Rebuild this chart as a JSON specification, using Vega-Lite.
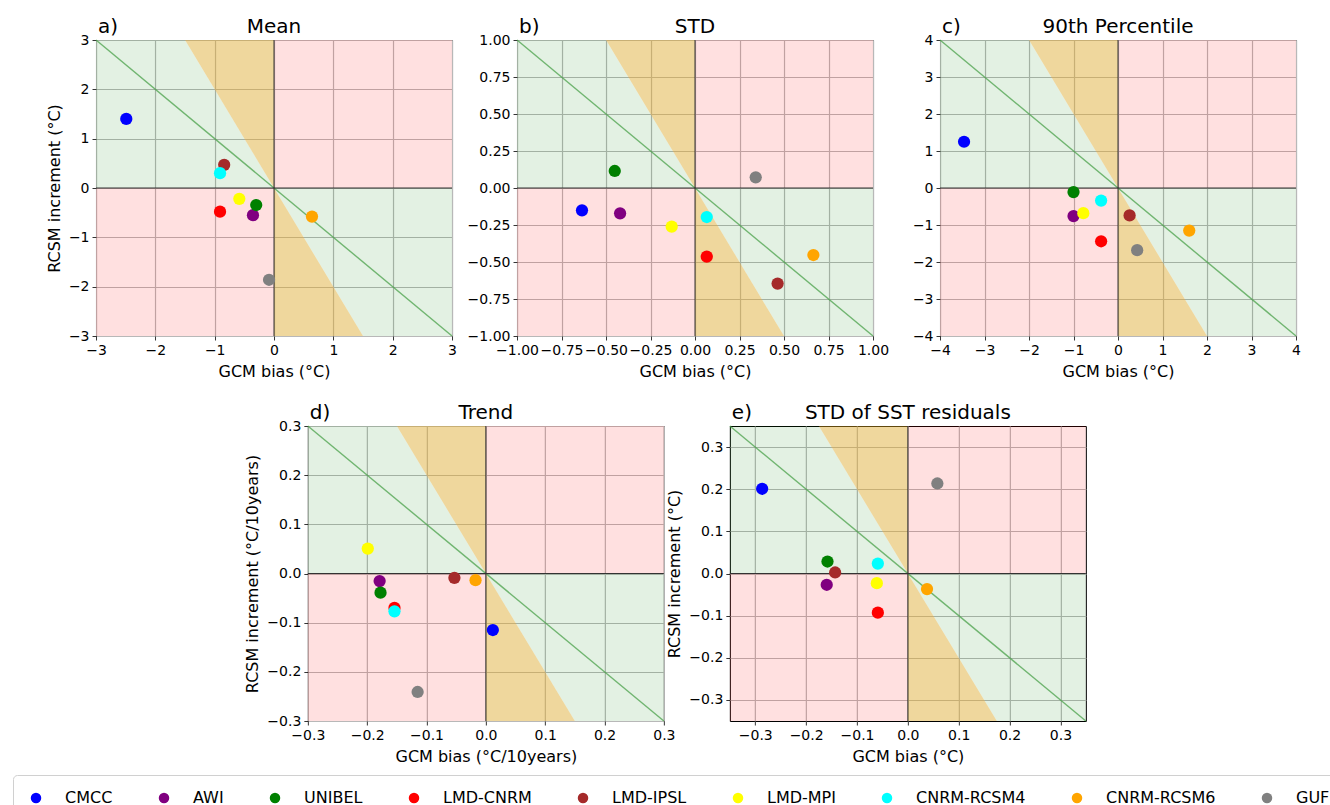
{
  "$schema": "https://vega.github.io/schema/vega-lite/v6.json",
  "padding": {"left": 12, "top": 16, "right": 0, "bottom": 0},
  "background": "white",
  "config": {
    "font": "DejaVu Sans",
    "view": {"stroke": "black", "strokeWidth": 1},
    "axis": {"labelFont": "DejaVu Sans", "labelFontSize": 14, "labelColor": "black", "titleFont": "DejaVu Sans", "titleFontSize": 16, "titleFontWeight": "normal", "titleColor": "black", "tickColor": "black", "tickSize": 4, "tickWidth": 0.8, "domain": false, "grid": true, "gridColor": "#b8b8b8", "gridWidth": 1.2, "labelFlush": false, "labelOverlap": false, "labelPadding": 3, "titlePadding": 6},
    "title": {"font": "DejaVu Sans", "fontSize": 20, "fontWeight": "normal", "color": "black", "offset": -20},
    "legend": {"labelFont": "DejaVu Sans"}
  },
  "datasets": {
    "bgA": [
      {"part": "ul", "zone": "better", "x": -3, "lo": 0, "hi": 3},
      {"part": "ul", "zone": "better", "x": -1.5, "lo": 0, "hi": 3},
      {"part": "ul", "zone": "better", "x": 0, "lo": 0, "hi": 0},
      {"part": "lr", "zone": "better", "x": 0, "lo": 0, "hi": 0},
      {"part": "lr", "zone": "better", "x": 1.5, "lo": -3, "hi": 0},
      {"part": "lr", "zone": "better", "x": 3, "lo": -3, "hi": 0},
      {"part": "oul", "zone": "over", "x": -1.5, "lo": 3, "hi": 3},
      {"part": "oul", "zone": "over", "x": 0, "lo": 0, "hi": 3},
      {"part": "olr", "zone": "over", "x": 0, "lo": -3, "hi": 0},
      {"part": "olr", "zone": "over", "x": 1.5, "lo": -3, "hi": -3},
      {"part": "wur", "zone": "worse", "x": 0, "lo": 0, "hi": 3},
      {"part": "wur", "zone": "worse", "x": 3, "lo": 0, "hi": 3},
      {"part": "wll", "zone": "worse", "x": -3, "lo": -3, "hi": 0},
      {"part": "wll", "zone": "worse", "x": 0, "lo": -3, "hi": 0}
    ],
    "bgB": [
      {"part": "ul", "zone": "better", "x": -1, "lo": 0, "hi": 1},
      {"part": "ul", "zone": "better", "x": -0.5, "lo": 0, "hi": 1},
      {"part": "ul", "zone": "better", "x": 0, "lo": 0, "hi": 0},
      {"part": "lr", "zone": "better", "x": 0, "lo": 0, "hi": 0},
      {"part": "lr", "zone": "better", "x": 0.5, "lo": -1, "hi": 0},
      {"part": "lr", "zone": "better", "x": 1, "lo": -1, "hi": 0},
      {"part": "oul", "zone": "over", "x": -0.5, "lo": 1, "hi": 1},
      {"part": "oul", "zone": "over", "x": 0, "lo": 0, "hi": 1},
      {"part": "olr", "zone": "over", "x": 0, "lo": -1, "hi": 0},
      {"part": "olr", "zone": "over", "x": 0.5, "lo": -1, "hi": -1},
      {"part": "wur", "zone": "worse", "x": 0, "lo": 0, "hi": 1},
      {"part": "wur", "zone": "worse", "x": 1, "lo": 0, "hi": 1},
      {"part": "wll", "zone": "worse", "x": -1, "lo": -1, "hi": 0},
      {"part": "wll", "zone": "worse", "x": 0, "lo": -1, "hi": 0}
    ],
    "bgC": [
      {"part": "ul", "zone": "better", "x": -4, "lo": 0, "hi": 4},
      {"part": "ul", "zone": "better", "x": -2, "lo": 0, "hi": 4},
      {"part": "ul", "zone": "better", "x": 0, "lo": 0, "hi": 0},
      {"part": "lr", "zone": "better", "x": 0, "lo": 0, "hi": 0},
      {"part": "lr", "zone": "better", "x": 2, "lo": -4, "hi": 0},
      {"part": "lr", "zone": "better", "x": 4, "lo": -4, "hi": 0},
      {"part": "oul", "zone": "over", "x": -2, "lo": 4, "hi": 4},
      {"part": "oul", "zone": "over", "x": 0, "lo": 0, "hi": 4},
      {"part": "olr", "zone": "over", "x": 0, "lo": -4, "hi": 0},
      {"part": "olr", "zone": "over", "x": 2, "lo": -4, "hi": -4},
      {"part": "wur", "zone": "worse", "x": 0, "lo": 0, "hi": 4},
      {"part": "wur", "zone": "worse", "x": 4, "lo": 0, "hi": 4},
      {"part": "wll", "zone": "worse", "x": -4, "lo": -4, "hi": 0},
      {"part": "wll", "zone": "worse", "x": 0, "lo": -4, "hi": 0}
    ],
    "bgD": [
      {"part": "ul", "zone": "better", "x": -0.3, "lo": 0, "hi": 0.3},
      {"part": "ul", "zone": "better", "x": -0.15, "lo": 0, "hi": 0.3},
      {"part": "ul", "zone": "better", "x": 0, "lo": 0, "hi": 0},
      {"part": "lr", "zone": "better", "x": 0, "lo": 0, "hi": 0},
      {"part": "lr", "zone": "better", "x": 0.15, "lo": -0.3, "hi": 0},
      {"part": "lr", "zone": "better", "x": 0.3, "lo": -0.3, "hi": 0},
      {"part": "oul", "zone": "over", "x": -0.15, "lo": 0.3, "hi": 0.3},
      {"part": "oul", "zone": "over", "x": 0, "lo": 0, "hi": 0.3},
      {"part": "olr", "zone": "over", "x": 0, "lo": -0.3, "hi": 0},
      {"part": "olr", "zone": "over", "x": 0.15, "lo": -0.3, "hi": -0.3},
      {"part": "wur", "zone": "worse", "x": 0, "lo": 0, "hi": 0.3},
      {"part": "wur", "zone": "worse", "x": 0.3, "lo": 0, "hi": 0.3},
      {"part": "wll", "zone": "worse", "x": -0.3, "lo": -0.3, "hi": 0},
      {"part": "wll", "zone": "worse", "x": 0, "lo": -0.3, "hi": 0}
    ],
    "bgE": [
      {"part": "ul", "zone": "better", "x": -0.35, "lo": 0, "hi": 0.35},
      {"part": "ul", "zone": "better", "x": -0.175, "lo": 0, "hi": 0.35},
      {"part": "ul", "zone": "better", "x": 0, "lo": 0, "hi": 0},
      {"part": "lr", "zone": "better", "x": 0, "lo": 0, "hi": 0},
      {"part": "lr", "zone": "better", "x": 0.175, "lo": -0.35, "hi": 0},
      {"part": "lr", "zone": "better", "x": 0.35, "lo": -0.35, "hi": 0},
      {"part": "oul", "zone": "over", "x": -0.175, "lo": 0.35, "hi": 0.35},
      {"part": "oul", "zone": "over", "x": 0, "lo": 0, "hi": 0.35},
      {"part": "olr", "zone": "over", "x": 0, "lo": -0.35, "hi": 0},
      {"part": "olr", "zone": "over", "x": 0.175, "lo": -0.35, "hi": -0.35},
      {"part": "wur", "zone": "worse", "x": 0, "lo": 0, "hi": 0.35},
      {"part": "wur", "zone": "worse", "x": 0.35, "lo": 0, "hi": 0.35},
      {"part": "wll", "zone": "worse", "x": -0.35, "lo": -0.35, "hi": 0},
      {"part": "wll", "zone": "worse", "x": 0, "lo": -0.35, "hi": 0}
    ],
    "diagA": [{"x": -3, "y": 3}, {"x": 3, "y": -3}],
    "diagB": [{"x": -1, "y": 1}, {"x": 1, "y": -1}],
    "diagC": [{"x": -4, "y": 4}, {"x": 4, "y": -4}],
    "diagD": [{"x": -0.3, "y": 0.3}, {"x": 0.3, "y": -0.3}],
    "diagE": [{"x": -0.35, "y": 0.35}, {"x": 0.35, "y": -0.35}],
    "ptsA": [
      {"model": "CMCC", "x": -2.49, "y": 1.40},
      {"model": "AWI", "x": -0.355, "y": -0.55},
      {"model": "UNIBEL", "x": -0.30, "y": -0.345},
      {"model": "LMD-CNRM", "x": -0.91, "y": -0.48},
      {"model": "LMD-IPSL", "x": -0.84, "y": 0.47},
      {"model": "LMD-MPI", "x": -0.585, "y": -0.22},
      {"model": "CNRM-RCSM4", "x": -0.91, "y": 0.30},
      {"model": "CNRM-RCSM6", "x": 0.64, "y": -0.58},
      {"model": "GUF", "x": -0.084, "y": -1.86}
    ],
    "ptsB": [
      {"model": "CMCC", "x": -0.635, "y": -0.151},
      {"model": "AWI", "x": -0.421, "y": -0.171},
      {"model": "UNIBEL", "x": -0.451, "y": 0.115},
      {"model": "LMD-CNRM", "x": 0.066, "y": -0.464},
      {"model": "LMD-IPSL", "x": 0.464, "y": -0.646},
      {"model": "LMD-MPI", "x": -0.131, "y": -0.261},
      {"model": "CNRM-RCSM4", "x": 0.066, "y": -0.196},
      {"model": "CNRM-RCSM6", "x": 0.665, "y": -0.453},
      {"model": "GUF", "x": 0.341, "y": 0.072}
    ],
    "ptsC": [
      {"model": "CMCC", "x": -3.46, "y": 1.25},
      {"model": "AWI", "x": -1.0, "y": -0.76},
      {"model": "UNIBEL", "x": -1.0, "y": -0.11},
      {"model": "LMD-CNRM", "x": -0.38, "y": -1.44},
      {"model": "LMD-IPSL", "x": 0.26, "y": -0.74},
      {"model": "LMD-MPI", "x": -0.78, "y": -0.68},
      {"model": "CNRM-RCSM4", "x": -0.38, "y": -0.34},
      {"model": "CNRM-RCSM6", "x": 1.60, "y": -1.15},
      {"model": "GUF", "x": 0.43, "y": -1.68}
    ],
    "ptsD": [
      {"model": "CMCC", "x": 0.0118, "y": -0.115},
      {"model": "AWI", "x": -0.179, "y": -0.0155},
      {"model": "UNIBEL", "x": -0.1775, "y": -0.039},
      {"model": "LMD-CNRM", "x": -0.154, "y": -0.070},
      {"model": "LMD-IPSL", "x": -0.053, "y": -0.0088},
      {"model": "LMD-MPI", "x": -0.199, "y": 0.0507},
      {"model": "CNRM-RCSM4", "x": -0.154, "y": -0.077},
      {"model": "CNRM-RCSM6", "x": -0.0174, "y": -0.0135},
      {"model": "GUF", "x": -0.115, "y": -0.241}
    ],
    "ptsE": [
      {"model": "CMCC", "x": -0.2865, "y": 0.201},
      {"model": "AWI", "x": -0.1595, "y": -0.0268},
      {"model": "UNIBEL", "x": -0.158, "y": 0.0284},
      {"model": "LMD-CNRM", "x": -0.059, "y": -0.093},
      {"model": "LMD-IPSL", "x": -0.143, "y": 0.0024},
      {"model": "LMD-MPI", "x": -0.061, "y": -0.0229},
      {"model": "CNRM-RCSM4", "x": -0.059, "y": 0.0236},
      {"model": "CNRM-RCSM6", "x": 0.0377, "y": -0.037},
      {"model": "GUF", "x": 0.058, "y": 0.2136}
    ]
  },
  "vconcat": [
    {
      "hconcat": [
        {
          "width": 356, "height": 296,
          "title": "Mean",
          "layer": [
            {"data": {"name": "bgA"}, "mark": {"type": "area", "strokeWidth": 0},
             "encoding": {
               "x": {"field": "x", "type": "quantitative", "scale": {"domain": [-3, 3], "nice": false, "zero": false}, "axis": {"title": "GCM bias (°C)", "values": [-3, -2, -1, 0, 1, 2, 3], "tickCount": 20, "format": "d"}},
               "y": {"field": "lo", "type": "quantitative", "scale": {"domain": [-3, 3], "nice": false, "zero": false}, "axis": {"title": "RCSM increment (°C)", "values": [-3, -2, -1, 0, 1, 2, 3], "tickCount": 20, "format": "d"}},
               "y2": {"field": "hi"},
               "detail": {"field": "part"},
               "fill": {"field": "zone", "type": "nominal", "scale": {"domain": ["better", "over", "worse"], "range": ["rgba(0,128,0,0.11)", "rgba(218,165,32,0.44)", "rgba(255,0,0,0.12)"]}, "legend": null}
             }},
            {"data": {"name": "diagA"}, "mark": {"type": "line", "color": "#4aa04a", "strokeWidth": 1.4, "opacity": 0.75},
             "encoding": {"x": {"field": "x", "type": "quantitative"}, "y": {"field": "y", "type": "quantitative"}}},
            {"data": {"values": [{}]}, "mark": {"type": "rule", "color": "#333333", "strokeWidth": 1}, "encoding": {"x": {"datum": 0}}},
            {"data": {"values": [{}]}, "mark": {"type": "rule", "color": "#333333", "strokeWidth": 1}, "encoding": {"y": {"datum": 0}}},
            {"data": {"name": "ptsA"}, "mark": {"type": "circle", "size": 150, "opacity": 1},
             "encoding": {
               "x": {"field": "x", "type": "quantitative"},
               "y": {"field": "y", "type": "quantitative"},
               "color": {"field": "model", "type": "nominal",
                 "scale": {"domain": ["CMCC", "AWI", "UNIBEL", "LMD-CNRM", "LMD-IPSL", "LMD-MPI", "CNRM-RCSM4", "CNRM-RCSM6", "GUF"], "range": ["#0000ff", "#800080", "#008000", "#ff0000", "#a52a2a", "#ffff00", "#00ffff", "#ffa500", "#808080"]},
                 "legend": {"title": null, "orient": "none", "legendX": -83, "legendY": 735, "direction": "horizontal", "columns": 9, "columnPadding": 43, "labelFontSize": 16, "labelColor": "black", "labelOffset": 21, "symbolSize": 110, "symbolType": "circle", "symbolOpacity": 1, "strokeColor": "#d0d0d0", "cornerRadius": 4, "padding": 15, "fillColor": "white"}}
             }},
            {"data": {"values": [{"t": "a)"}]}, "mark": {"type": "text", "align": "left", "baseline": "alphabetic", "fontSize": 20, "dx": 2, "dy": -7, "color": "black"},
             "encoding": {"x": {"datum": -3}, "y": {"datum": 3}, "text": {"field": "t"}}}
          ]
        },
        {
          "hconcat": [
            {
              "width": 356, "height": 296,
              "title": "STD",
              "layer": [
                {"data": {"name": "bgB"}, "mark": {"type": "area", "strokeWidth": 0},
                 "encoding": {
                   "x": {"field": "x", "type": "quantitative", "scale": {"domain": [-1, 1], "nice": false, "zero": false}, "axis": {"title": "GCM bias (°C)", "values": [-1, -0.75, -0.5, -0.25, 0, 0.25, 0.5, 0.75, 1], "tickCount": 20, "format": ".2f"}},
                   "y": {"field": "lo", "type": "quantitative", "scale": {"domain": [-1, 1], "nice": false, "zero": false}, "axis": {"title": null, "values": [-1, -0.75, -0.5, -0.25, 0, 0.25, 0.5, 0.75, 1], "tickCount": 20, "format": ".2f"}},
                   "y2": {"field": "hi"},
                   "detail": {"field": "part"},
                   "fill": {"field": "zone", "type": "nominal", "scale": {"domain": ["better", "over", "worse"], "range": ["rgba(0,128,0,0.11)", "rgba(218,165,32,0.44)", "rgba(255,0,0,0.12)"]}, "legend": null}
                 }},
                {"data": {"name": "diagB"}, "mark": {"type": "line", "color": "#4aa04a", "strokeWidth": 1.4, "opacity": 0.75},
                 "encoding": {"x": {"field": "x", "type": "quantitative"}, "y": {"field": "y", "type": "quantitative"}}},
                {"data": {"values": [{}]}, "mark": {"type": "rule", "color": "#333333", "strokeWidth": 1}, "encoding": {"x": {"datum": 0}}},
                {"data": {"values": [{}]}, "mark": {"type": "rule", "color": "#333333", "strokeWidth": 1}, "encoding": {"y": {"datum": 0}}},
                {"data": {"name": "ptsB"}, "mark": {"type": "circle", "size": 150, "opacity": 1},
                 "encoding": {
                   "x": {"field": "x", "type": "quantitative"},
                   "y": {"field": "y", "type": "quantitative"},
                   "color": {"field": "model", "type": "nominal",
                     "legend": {"title": null, "orient": "none", "legendX": -83, "legendY": 735, "direction": "horizontal", "columns": 9, "columnPadding": 43, "labelFontSize": 16, "labelColor": "black", "labelOffset": 21, "symbolSize": 110, "symbolType": "circle", "symbolOpacity": 1, "strokeColor": "#d0d0d0", "cornerRadius": 4, "padding": 15, "fillColor": "white"}}
                 }},
                {"data": {"values": [{"t": "b)"}]}, "mark": {"type": "text", "align": "left", "baseline": "alphabetic", "fontSize": 20, "dx": 2, "dy": -7, "color": "black"},
                 "encoding": {"x": {"datum": -1}, "y": {"datum": 1}, "text": {"field": "t"}}}
              ]
            },
            {
              "width": 356, "height": 296,
              "title": "90th Percentile",
              "layer": [
                {"data": {"name": "bgC"}, "mark": {"type": "area", "strokeWidth": 0},
                 "encoding": {
                   "x": {"field": "x", "type": "quantitative", "scale": {"domain": [-4, 4], "nice": false, "zero": false}, "axis": {"title": "GCM bias (°C)", "values": [-4, -3, -2, -1, 0, 1, 2, 3, 4], "tickCount": 20, "format": "d"}},
                   "y": {"field": "lo", "type": "quantitative", "scale": {"domain": [-4, 4], "nice": false, "zero": false}, "axis": {"title": null, "values": [-4, -3, -2, -1, 0, 1, 2, 3, 4], "tickCount": 20, "format": "d"}},
                   "y2": {"field": "hi"},
                   "detail": {"field": "part"},
                   "fill": {"field": "zone", "type": "nominal", "scale": {"domain": ["better", "over", "worse"], "range": ["rgba(0,128,0,0.11)", "rgba(218,165,32,0.44)", "rgba(255,0,0,0.12)"]}, "legend": null}
                 }},
                {"data": {"name": "diagC"}, "mark": {"type": "line", "color": "#4aa04a", "strokeWidth": 1.4, "opacity": 0.75},
                 "encoding": {"x": {"field": "x", "type": "quantitative"}, "y": {"field": "y", "type": "quantitative"}}},
                {"data": {"values": [{}]}, "mark": {"type": "rule", "color": "#333333", "strokeWidth": 1}, "encoding": {"x": {"datum": 0}}},
                {"data": {"values": [{}]}, "mark": {"type": "rule", "color": "#333333", "strokeWidth": 1}, "encoding": {"y": {"datum": 0}}},
                {"data": {"name": "ptsC"}, "mark": {"type": "circle", "size": 150, "opacity": 1},
                 "encoding": {
                   "x": {"field": "x", "type": "quantitative"},
                   "y": {"field": "y", "type": "quantitative"},
                   "color": {"field": "model", "type": "nominal",
                     "legend": {"title": null, "orient": "none", "legendX": -83, "legendY": 735, "direction": "horizontal", "columns": 9, "columnPadding": 43, "labelFontSize": 16, "labelColor": "black", "labelOffset": 21, "symbolSize": 110, "symbolType": "circle", "symbolOpacity": 1, "strokeColor": "#d0d0d0", "cornerRadius": 4, "padding": 15, "fillColor": "white"}}
                 }},
                {"data": {"values": [{"t": "c)"}]}, "mark": {"type": "text", "align": "left", "baseline": "alphabetic", "fontSize": 20, "dx": 2, "dy": -7, "color": "black"},
                 "encoding": {"x": {"datum": -4}, "y": {"datum": 4}, "text": {"field": "t"}}}
              ]
            }
          ],
          "spacing": 21
        }
      ],
      "spacing": 9
    },
    {
      "hconcat": [
        {
          "width": 356, "height": 295,
          "title": "Trend",
          "layer": [
            {"data": {"name": "bgD"}, "mark": {"type": "area", "strokeWidth": 0},
             "encoding": {
               "x": {"field": "x", "type": "quantitative", "scale": {"domain": [-0.3, 0.3], "nice": false, "zero": false}, "axis": {"title": "GCM bias (°C/10years)", "values": [-0.3, -0.2, -0.1, 0, 0.1, 0.2, 0.3], "tickCount": 20, "format": ".1f"}},
               "y": {"field": "lo", "type": "quantitative", "scale": {"domain": [-0.3, 0.3], "nice": false, "zero": false}, "axis": {"title": "RCSM increment (°C/10years)", "values": [-0.3, -0.2, -0.1, 0, 0.1, 0.2, 0.3], "tickCount": 20, "format": ".1f"}},
               "y2": {"field": "hi"},
               "detail": {"field": "part"},
               "fill": {"field": "zone", "type": "nominal", "scale": {"domain": ["better", "over", "worse"], "range": ["rgba(0,128,0,0.11)", "rgba(218,165,32,0.44)", "rgba(255,0,0,0.12)"]}, "legend": null}
             }},
            {"data": {"name": "diagD"}, "mark": {"type": "line", "color": "#4aa04a", "strokeWidth": 1.4, "opacity": 0.75},
             "encoding": {"x": {"field": "x", "type": "quantitative"}, "y": {"field": "y", "type": "quantitative"}}},
            {"data": {"values": [{}]}, "mark": {"type": "rule", "color": "#333333", "strokeWidth": 1}, "encoding": {"x": {"datum": 0}}},
            {"data": {"values": [{}]}, "mark": {"type": "rule", "color": "#333333", "strokeWidth": 1}, "encoding": {"y": {"datum": 0}}},
            {"data": {"name": "ptsD"}, "mark": {"type": "circle", "size": 150, "opacity": 1},
             "encoding": {
               "x": {"field": "x", "type": "quantitative"},
               "y": {"field": "y", "type": "quantitative"},
               "color": {"field": "model", "type": "nominal",
                 "legend": {"title": null, "orient": "none", "legendX": -83, "legendY": 735, "direction": "horizontal", "columns": 9, "columnPadding": 43, "labelFontSize": 16, "labelColor": "black", "labelOffset": 21, "symbolSize": 110, "symbolType": "circle", "symbolOpacity": 1, "strokeColor": "#d0d0d0", "cornerRadius": 4, "padding": 15, "fillColor": "white"}}
             }},
            {"data": {"values": [{"t": "d)"}]}, "mark": {"type": "text", "align": "left", "baseline": "alphabetic", "fontSize": 20, "dx": 2, "dy": -7, "color": "black"},
             "encoding": {"x": {"datum": -0.3}, "y": {"datum": 0.3}, "text": {"field": "t"}}}
          ]
        },
        {
          "width": 356, "height": 295,
          "title": "STD of SST residuals",
          "layer": [
            {"data": {"name": "bgE"}, "mark": {"type": "area", "strokeWidth": 0},
             "encoding": {
               "x": {"field": "x", "type": "quantitative", "scale": {"domain": [-0.35, 0.35], "nice": false, "zero": false}, "axis": {"title": "GCM bias (°C)", "values": [-0.3, -0.2, -0.1, 0, 0.1, 0.2, 0.3], "tickCount": 20, "format": ".1f"}},
               "y": {"field": "lo", "type": "quantitative", "scale": {"domain": [-0.35, 0.35], "nice": false, "zero": false}, "axis": {"title": "RCSM increment (°C)", "values": [-0.3, -0.2, -0.1, 0, 0.1, 0.2, 0.3], "tickCount": 20, "format": ".1f"}},
               "y2": {"field": "hi"},
               "detail": {"field": "part"},
               "fill": {"field": "zone", "type": "nominal", "scale": {"domain": ["better", "over", "worse"], "range": ["rgba(0,128,0,0.11)", "rgba(218,165,32,0.44)", "rgba(255,0,0,0.12)"]}, "legend": null}
             }},
            {"data": {"name": "diagE"}, "mark": {"type": "line", "color": "#4aa04a", "strokeWidth": 1.4, "opacity": 0.75},
             "encoding": {"x": {"field": "x", "type": "quantitative"}, "y": {"field": "y", "type": "quantitative"}}},
            {"data": {"values": [{}]}, "mark": {"type": "rule", "color": "#333333", "strokeWidth": 1}, "encoding": {"x": {"datum": 0}}},
            {"data": {"values": [{}]}, "mark": {"type": "rule", "color": "#333333", "strokeWidth": 1}, "encoding": {"y": {"datum": 0}}},
            {"data": {"name": "ptsE"}, "mark": {"type": "circle", "size": 150, "opacity": 1},
             "encoding": {
               "x": {"field": "x", "type": "quantitative"},
               "y": {"field": "y", "type": "quantitative"},
               "color": {"field": "model", "type": "nominal",
                 "legend": {"title": null, "orient": "none", "legendX": -83, "legendY": 735, "direction": "horizontal", "columns": 9, "columnPadding": 43, "labelFontSize": 16, "labelColor": "black", "labelOffset": 21, "symbolSize": 110, "symbolType": "circle", "symbolOpacity": 1, "strokeColor": "#d0d0d0", "cornerRadius": 4, "padding": 15, "fillColor": "white"}}
             }},
            {"data": {"values": [{"t": "e)"}]}, "mark": {"type": "text", "align": "left", "baseline": "alphabetic", "fontSize": 20, "dx": 2, "dy": -7, "color": "black"},
             "encoding": {"x": {"datum": -0.35}, "y": {"datum": 0.35}, "text": {"field": "t"}}}
          ]
        }
      ],
      "spacing": -10
    }
  ],
  "spacing": 22,
  "center": true
}
